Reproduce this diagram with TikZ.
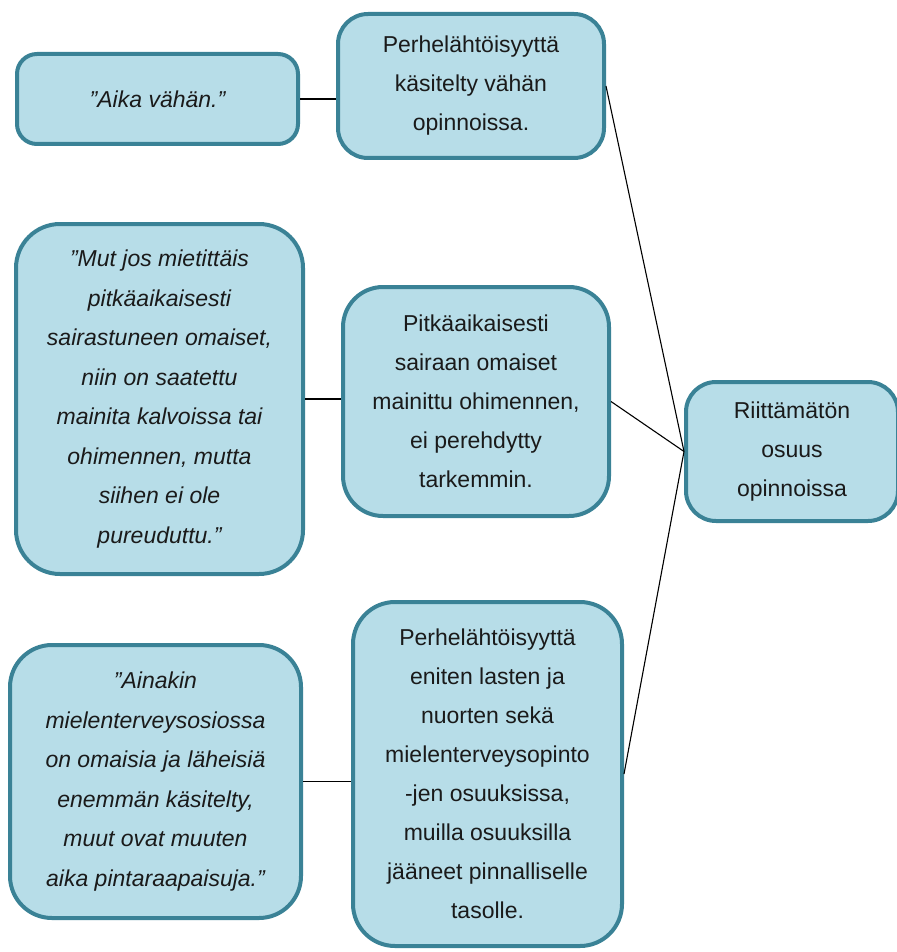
\documentclass[tikz,border=0pt]{standalone}
\usepackage{fontspec}
\setmainfont{Liberation Sans}
\definecolor{boxfill}{HTML}{B7DDE8}
\definecolor{boxline}{HTML}{3A8296}
\definecolor{ink}{HTML}{1A1A1A}
\begin{document}
\begin{tikzpicture}[x=1pt,y=-1pt,
  box/.style={draw=boxline, fill=boxfill, line width=4pt, rounded corners=#1,
    align=center, inner sep=0pt, text=ink,
    font=\fontsize{23}{39}\selectfont},
  box/.default=30pt,
  quote/.style={box=#1, font=\fontsize{23}{39.5}\selectfont\itshape},
  quote/.default=40pt,
  link/.style={draw=black, line width=1.1pt}]
\useasboundingbox (0,0) rectangle (896,952);

% quotations (left column)
\node[quote=20pt, minimum width=281pt, minimum height=90pt] (a1) at (157.5,99)
  {”Aika vähän.”};
\node[quote=44pt, minimum width=287pt, minimum height=350pt] (a2) at (159.5,399)
  {”Mut jos mietittäis\\ pitkäaikaisesti\\ sairastuneen omaiset,\\ niin on saatettu\\
   mainita kalvoissa tai\\ ohimennen, mutta\\ siihen ei ole\\ pureuduttu.”};
\node[quote=42pt, minimum width=291pt, minimum height=273pt] (a3) at (155.5,781.5)
  {”Ainakin\\ mielenterveysosiossa\\ on omaisia ja läheisiä\\ enemmän käsitelty,\\
   muut ovat muuten\\ aika pintaraapaisuja.”};

% findings (middle column)
\node[box=30pt, minimum width=266pt, minimum height=144pt] (b1) at (471,86)
  {Perhelähtöisyyttä\\ käsitelty vähän\\ opinnoissa.};
\node[box=40pt, minimum width=266pt, minimum height=229pt] (b2) at (476,401.5)
  {Pitkäaikaisesti\\ sairaan omaiset\\ mainittu ohimennen,\\ ei perehdytty\\ tarkemmin.};
\node[box=42pt, minimum width=269pt, minimum height=344pt] (b3) at (487.5,774)
  {Perhelähtöisyyttä\\ eniten lasten ja\\ nuorten sekä\\ mielenterveysopinto\\
   -jen osuuksissa,\\ muilla osuuksilla\\ jääneet pinnalliselle\\ tasolle.};

% main category (right)
\node[box=30pt, minimum width=212pt, minimum height=139pt] (c) at (792,451.5)
  {Riittämätön\\ osuus\\ opinnoissa};

% connectors
\draw[link] (a1.east) -- (a1.east -| b1.west);
\draw[link] (a2.east) -- (a2.east -| b2.west);
\draw[link] (a3.east) -- (a3.east -| b3.west);
\draw[link] (b1.east) -- (c.west);
\draw[link] (b2.east) -- (c.west);
\draw[link] (b3.east) -- (c.west);
\end{tikzpicture}
\end{document}
